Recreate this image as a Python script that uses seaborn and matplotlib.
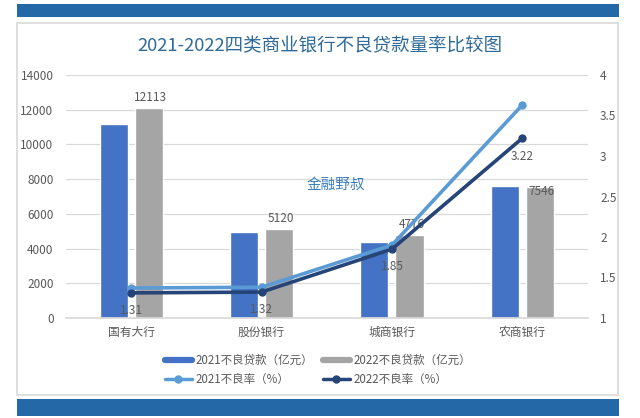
import matplotlib
matplotlib.use("Agg")
import matplotlib.pyplot as plt
from matplotlib.patches import Rectangle
import pandas as pd
import seaborn as sns

# data
banks = ["国有大行", "股份银行", "城商银行", "农商银行"]
npl_2021 = [11200, 4950, 4380, 7620]
npl_2022 = [12113, 5120, 4776, 7546]
rate_2021 = [1.37, 1.38, 1.90, 3.63]
rate_2022 = [1.31, 1.32, 1.85, 3.22]
bar_names = ["2021不良贷款（亿元）", "2022不良贷款（亿元）"]
line_names = ["2021不良率（%）", "2022不良率（%）"]
title = "2021-2022四类商业银行不良贷款量率比较图"

sns.set_theme(style="white")
plt.rcParams["font.family"] = ["Noto Sans CJK SC", "DejaVu Sans"]

band = "#2468a8"
blue, gray = "#4472c4", "#a5a5a5"
light, dark = "#5b9bd5", "#264478"
txt = "#595959"

bars = pd.DataFrame({
    "bank": banks * 2,
    "value": npl_2021 + npl_2022,
    "series": [bar_names[0]] * 4 + [bar_names[1]] * 4,
})

fig = plt.figure(figsize=(6.4, 4.18), dpi=100)
W, H = 640, 418

def fx(px):
    return px / W

def fy(py):
    return 1 - py / H

# frame and the two blue bands
fig.patches.append(Rectangle((fx(17), fy(395)), fx(601), (395 - 23) / H,
                             transform=fig.transFigure, facecolor="white",
                             edgecolor="#d9d9d9", lw=1.2, zorder=-2))
fig.patches.append(Rectangle((fx(17), fy(17)), fx(602), 13 / H,
                             transform=fig.transFigure, facecolor=band,
                             edgecolor="none", zorder=-2))
fig.patches.append(Rectangle((fx(17), fy(416)), fx(602), 17 / H,
                             transform=fig.transFigure, facecolor=band,
                             edgecolor="none", zorder=-2))

ax = fig.add_axes([fx(66), fy(318), fx(587.5 - 66), (318 - 75) / H])
ax.patch.set_alpha(0)
sns.barplot(data=bars, x="bank", y="value", hue="series", order=banks,
            hue_order=bar_names, palette=[blue, gray], width=0.54, gap=0.2,
            ax=ax, legend=False, saturation=1)
ax.set_xlim(-0.5, 3.5)
ax.set_ylim(0, 14000)
ax.set_yticks(range(0, 14001, 2000))
ax.yaxis.grid(True, color="#d9d9d9", lw=0.9)
ax.set_axisbelow(True)
for s in ["top", "right", "left"]:
    ax.spines[s].set_visible(False)
ax.spines["bottom"].set_color("#d9d9d9")
ax.set_xlabel("")
ax.set_ylabel("")
ax.tick_params(axis="y", colors=txt, labelsize=8.5, length=0, pad=9)
ax.tick_params(axis="x", colors=txt, labelsize=8.5, length=0, pad=6)

# labels on 2022 bars
for i, v in enumerate(npl_2022):
    yy = v + 230 if i < 3 else v - 250
    ax.text(i + 0.15, yy, str(v), ha="center", va="bottom" if i < 3 else "center",
            fontsize=8.5, color=txt)

ax2 = ax.twinx()
ax2.set_position(ax.get_position())
sns.lineplot(x=banks, y=rate_2021, ax=ax2, color=light, lw=2.6, marker="o",
             markersize=6, markeredgewidth=0, sort=False)
sns.lineplot(x=banks, y=rate_2022, ax=ax2, color=dark, lw=2.6, marker="o",
             markersize=6, markeredgewidth=0, sort=False)
ax2.set_ylim(1, 4)
ax2.set_yticks([1, 1.5, 2, 2.5, 3, 3.5, 4])
ax2.set_yticklabels(["1", "1.5", "2", "2.5", "3", "3.5", "4"])
for s in ["top", "right", "left", "bottom"]:
    ax2.spines[s].set_visible(False)
ax2.tick_params(axis="y", colors=txt, labelsize=8.5, length=0, pad=9)
ax2.set_ylabel("")
for i, v in enumerate(rate_2022):
    ax2.text(i, v - 0.22, f"{v:.2f}", ha="center", va="center",
             fontsize=8.5, color=txt)

ax2.text(1.57, 2.65, "金融野叔", ha="center", va="center", fontsize=10.5,
         color="#3d7fb8")

fig.text(0.5, fy(46), title, ha="center", va="center", fontsize=13.3,
         color="#2f6b9a")

# legend: bars on the first row, lines on the second
handles = [
    plt.Line2D([], [], color=blue, lw=4.5),
    plt.Line2D([], [], color=light, lw=2.5, marker="o", markersize=5),
    plt.Line2D([], [], color=gray, lw=4.5),
    plt.Line2D([], [], color=dark, lw=2.5, marker="o", markersize=5),
]
labels = [bar_names[0], line_names[0], bar_names[1], line_names[1]]
fig.legend(handles, labels, ncol=2, loc="center",
           bbox_to_anchor=(fx(318), fy(370)), frameon=False, fontsize=8.3,
           labelcolor=txt, handlelength=2.4, handletextpad=0.3,
           columnspacing=0.8, labelspacing=0.5)

fig.savefig("out.png", dpi=100)
